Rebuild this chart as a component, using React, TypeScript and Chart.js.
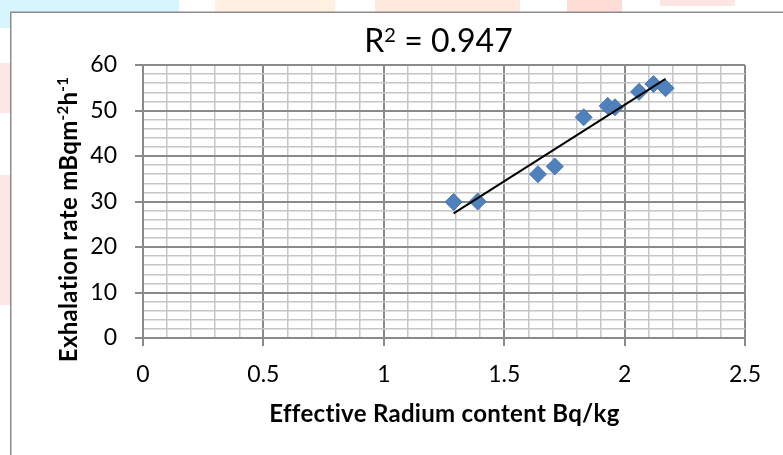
import React, { useEffect, useRef } from 'react';
import { Chart, registerables } from 'chart.js';

Chart.register(...registerables);

// ---- data ----
const RADIUM_CONTENT = [1.29, 1.39, 1.64, 1.71, 1.83, 1.93, 1.96, 2.06, 2.12, 2.17];
const EXHALATION_RATE = [29.9, 30.0, 36.0, 37.7, 48.5, 51.0, 50.7, 54.1, 55.8, 54.9];

const X_MAJOR_TICKS = [0, 0.5, 1, 1.5, 2, 2.5];
const X_TICK_LABELS = ['0', '0.5', '1', '1.5', '2', '2.5'];
const Y_MAJOR_TICKS = [0, 10, 20, 30, 40, 50, 60];
const Y_TICK_LABELS = ['0', '10', '20', '30', '40', '50', '60'];

const TITLE_PARTS = [
  { text: 'R', sup: false },
  { text: '2', sup: true },
  { text: ' = 0.947', sup: false },
];
const X_TITLE = 'Effective Radium content Bq/kg';
const Y_TITLE_PARTS = [
  { text: 'Exhalation rate mBqm', sup: false },
  { text: '-2', sup: true },
  { text: 'h', sup: false },
  { text: '-1', sup: true },
];

function linearFit(xs: number[], ys: number[]) {
  const n = xs.length;
  const mx = xs.reduce((a, b) => a + b, 0) / n;
  const my = ys.reduce((a, b) => a + b, 0) / n;
  let sxy = 0;
  let sxx = 0;
  for (let i = 0; i < n; i++) {
    sxy += (xs[i] - mx) * (ys[i] - my);
    sxx += (xs[i] - mx) * (xs[i] - mx);
  }
  const slope = sxy / sxx;
  return { slope, intercept: my - slope * mx };
}

function majorIndex(v: number, majors: number[]) {
  for (let i = 0; i < majors.length; i++) {
    if (Math.abs(v - majors[i]) < 1e-6) return i;
  }
  return -1;
}

const MAJOR_GRID = '#8a8a8a';
const MINOR_GRID = '#c6c6c6';
const FONT = 'Lato, "Open Sans", sans-serif';

function drawParts(
  ctx: CanvasRenderingContext2D,
  parts: { text: string; sup: boolean }[],
  mainFont: string,
  supFont: string,
  supRaise: number,
  spacing: string,
  cx: number,
  baseline: number
) {
  (ctx as any).letterSpacing = spacing;
  ctx.textAlign = 'left';
  ctx.textBaseline = 'alphabetic';
  let total = 0;
  const widths = parts.map((p) => {
    ctx.font = p.sup ? supFont : mainFont;
    const w = ctx.measureText(p.text).width;
    total += w;
    return w;
  });
  let x = cx - total / 2;
  parts.forEach((p, i) => {
    ctx.font = p.sup ? supFont : mainFont;
    ctx.fillText(p.text, x, p.sup ? baseline - supRaise : baseline);
    x += widths[i];
  });
  (ctx as any).letterSpacing = '0px';
}

const decorPlugin = {
  id: 'decor',
  beforeDraw(chart: any) {
    const ctx = chart.ctx as CanvasRenderingContext2D;
    ctx.save();
    // faint page background outside the chart frame
    ctx.fillStyle = '#d6f5fc';
    ctx.fillRect(0, 0, 179, 12);
    ctx.fillRect(0, 0, 10, 28);
    ctx.fillStyle = '#fff0e2';
    ctx.fillRect(215, 0, 120, 12);
    ctx.fillStyle = '#ffe8de';
    ctx.fillRect(375, 0, 145, 12);
    ctx.fillStyle = '#ffdcd6';
    ctx.fillRect(567, 0, 55, 12);
    ctx.fillStyle = '#ffe6e2';
    ctx.fillRect(660, 0, 75, 6);
    ctx.fillStyle = '#ffe6e6';
    ctx.fillRect(0, 63, 10, 50);
    ctx.fillRect(0, 175, 10, 130);
    // chart frame
    ctx.fillStyle = '#ffffff';
    ctx.fillRect(10, 12, 800, 460);
    ctx.strokeStyle = '#8c8c8c';
    ctx.lineWidth = 1.5;
    ctx.strokeRect(10.75, 12.25, 800, 460);
    ctx.restore();
  },
  afterDraw(chart: any) {
    const ctx = chart.ctx as CanvasRenderingContext2D;
    const area = chart.chartArea;
    ctx.save();
    ctx.fillStyle = '#000000';
    // chart title
    drawParts(ctx, TITLE_PARTS, `32px ${FONT}`, `20px ${FONT}`, 10, '0px', 438.5, 52);
    // x axis title
    drawParts(
      ctx,
      [{ text: X_TITLE, sup: false }],
      `bold 24px ${FONT}`,
      `bold 15px ${FONT}`,
      9,
      '0.3px',
      (area.left + area.right) / 2 + 0.5,
      422
    );
    // y axis title with superscripts
    ctx.translate(77, 219.5);
    ctx.rotate(-Math.PI / 2);
    drawParts(ctx, Y_TITLE_PARTS, `bold 24px ${FONT}`, `bold 15px ${FONT}`, 9, '0.3px', 0, 0);
    ctx.restore();
  },
};

export default function App() {
  const canvasRef = useRef<HTMLCanvasElement | null>(null);

  useEffect(() => {
    if (!canvasRef.current) return;
    const fit = linearFit(RADIUM_CONTENT, EXHALATION_RATE);
    const xMin = Math.min(...RADIUM_CONTENT);
    const xMax = Math.max(...RADIUM_CONTENT);
    const trend = [
      { x: xMin, y: fit.intercept + fit.slope * xMin },
      { x: xMax, y: fit.intercept + fit.slope * xMax },
    ];
    const points = RADIUM_CONTENT.map((x, i) => ({ x, y: EXHALATION_RATE[i] }));

    const gridColor = (majors: number[]) => (c: any) =>
      majorIndex(c.tick.value, majors) >= 0 ? MAJOR_GRID : MINOR_GRID;
    const gridWidth = (majors: number[]) => (c: any) =>
      majorIndex(c.tick.value, majors) >= 0 ? 2 : 1.5;
    const tickColor = (majors: number[]) => (c: any) =>
      majorIndex(c.tick.value, majors) >= 0 ? MAJOR_GRID : 'rgba(0,0,0,0)';

    const chart = new Chart(canvasRef.current, {
      type: 'scatter',
      data: {
        datasets: [
          {
            label: 'Linear',
            data: trend,
            showLine: true,
            borderColor: '#000000',
            borderWidth: 2,
            pointRadius: 0,
            fill: false,
          },
          {
            label: 'Data',
            data: points,
            showLine: false,
            pointStyle: 'rectRot',
            pointRadius: 8.5,
            backgroundColor: '#4f81bd',
            borderColor: '#4878b3',
            borderWidth: 1,
          },
        ],
      },
      options: {
        animation: false,
        responsive: false,
        devicePixelRatio: 1,
        layout: { padding: { top: 65, right: 38, left: 0, bottom: 0 } },
        plugins: {
          legend: { display: false },
          tooltip: { enabled: false },
          title: { display: false },
        },
        scales: {
          x: {
            type: 'linear',
            min: 0,
            max: 2.5,
            afterFit: (s: any) => {
              s.height = 117;
            },
            ticks: {
              stepSize: 0.1,
              autoSkip: false,
              maxRotation: 0,
              padding: 15,
              color: '#000000',
              font: { family: FONT, size: 23 },
              callback: (v: any) => {
                const i = majorIndex(Number(v), X_MAJOR_TICKS);
                return i >= 0 ? X_TICK_LABELS[i] : '';
              },
            },
            grid: {
              color: gridColor(X_MAJOR_TICKS),
              lineWidth: gridWidth(X_MAJOR_TICKS),
              tickColor: tickColor(X_MAJOR_TICKS),
              tickLength: 8,
              tickWidth: 2,
            },
            border: { color: MAJOR_GRID, width: 2 },
          },
          y: {
            type: 'linear',
            min: 0,
            max: 60,
            afterFit: (s: any) => {
              s.width = 143;
            },
            ticks: {
              stepSize: 2,
              autoSkip: false,
              padding: 18,
              color: '#000000',
              font: { family: FONT, size: 23 },
              callback: (v: any) => {
                const i = majorIndex(Number(v), Y_MAJOR_TICKS);
                return i >= 0 ? Y_TICK_LABELS[i] : '';
              },
            },
            grid: {
              color: gridColor(Y_MAJOR_TICKS),
              lineWidth: gridWidth(Y_MAJOR_TICKS),
              tickColor: tickColor(Y_MAJOR_TICKS),
              tickLength: 8,
              tickWidth: 2,
            },
            border: { color: MAJOR_GRID, width: 2 },
          },
        },
      },
      plugins: [decorPlugin],
    } as any);
    return () => chart.destroy();
  }, []);

  return (
    <div style={{ position: 'fixed', left: 0, top: 0, width: 783, height: 455, background: '#ffffff' }}>
      <canvas ref={canvasRef} width={783} height={455} style={{ display: 'block' }} />
    </div>
  );
}
